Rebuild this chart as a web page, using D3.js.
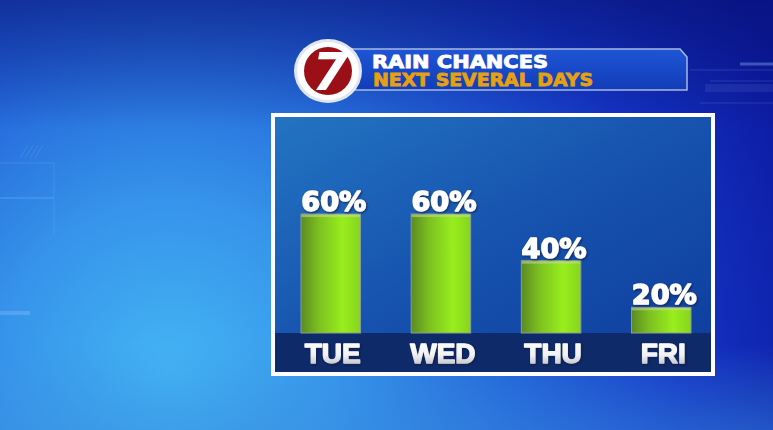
<!DOCTYPE html>
<html>
<head>
<meta charset="utf-8">
<script src="https://cdn.jsdelivr.net/npm/d3@7"></script>
<style>
  html, body { margin: 0; padding: 0; background: #0c1aa8; }
  svg { display: block; }
</style>
</head>
<body>
<div id="chart"></div>
<script>
const days = ["TUE", "WED", "THU", "FRI"];
const rainChance = [60, 60, 40, 20];
const valueLabels = ["60%", "60%", "40%", "20%"];
const titleLines = ["RAIN CHANCES", "NEXT SEVERAL DAYS"];

const width = 773;
const height = 430;

const svg = d3.select("#chart")
    .append("svg")
    .attr("width", width)
    .attr("height", height);

const defs = svg.append("defs");

// background glow, light cyan in the lower left
const bg = defs.append("radialGradient")
    .attr("id", "bgGlow")
    .attr("gradientUnits", "userSpaceOnUse")
    .attr("cx", 170).attr("cy", 370).attr("r", 680);
bg.append("stop").attr("offset", "0").attr("stop-color", "#44b4f4");
bg.append("stop").attr("offset", "0.25").attr("stop-color", "#3694ea");
bg.append("stop").attr("offset", "0.5").attr("stop-color", "#2262d8");
bg.append("stop").attr("offset", "0.75").attr("stop-color", "#1434c4");
bg.append("stop").attr("offset", "1").attr("stop-color", "#0c189e");

const topShade = defs.append("linearGradient")
    .attr("id", "topShade").attr("x1", 0).attr("y1", 0).attr("x2", 0).attr("y2", 1);
topShade.append("stop").attr("offset", "0").attr("stop-color", "#06106a").attr("stop-opacity", 0.5);
topShade.append("stop").attr("offset", "0.3").attr("stop-color", "#06106a").attr("stop-opacity", 0);
topShade.append("stop").attr("offset", "0.8").attr("stop-color", "#3a90e0").attr("stop-opacity", 0);
topShade.append("stop").attr("offset", "1").attr("stop-color", "#3a90e0").attr("stop-opacity", 0.45);

const panelGrad = defs.append("linearGradient")
    .attr("id", "panelGrad").attr("x1", 0).attr("y1", 0).attr("x2", 1).attr("y2", 1);
panelGrad.append("stop").attr("offset", "0").attr("stop-color", "#2374c2");
panelGrad.append("stop").attr("offset", "0.5").attr("stop-color", "#1652ae");
panelGrad.append("stop").attr("offset", "1").attr("stop-color", "#0e3c9c");

const barGrad = defs.append("linearGradient")
    .attr("id", "barGrad").attr("x1", 0).attr("y1", 0).attr("x2", 1).attr("y2", 0);
barGrad.append("stop").attr("offset", "0").attr("stop-color", "#5c8a22");
barGrad.append("stop").attr("offset", "0.3").attr("stop-color", "#7cc020");
barGrad.append("stop").attr("offset", "0.7").attr("stop-color", "#98ee1c");
barGrad.append("stop").attr("offset", "1").attr("stop-color", "#86d41e");

const dayGrad = defs.append("linearGradient")
    .attr("id", "dayGrad").attr("x1", 0).attr("y1", 0).attr("x2", 0).attr("y2", 1);
dayGrad.append("stop").attr("offset", "0").attr("stop-color", "#ffffff");
dayGrad.append("stop").attr("offset", "0.55").attr("stop-color", "#f2f2f4");
dayGrad.append("stop").attr("offset", "1").attr("stop-color", "#aeb2bc");

const bannerGrad = defs.append("linearGradient")
    .attr("id", "bannerGrad").attr("x1", 0).attr("y1", 0).attr("x2", 0).attr("y2", 1);
bannerGrad.append("stop").attr("offset", "0").attr("stop-color", "#1e56d6");
bannerGrad.append("stop").attr("offset", "1").attr("stop-color", "#123cb8");

const shadow = defs.append("filter").attr("id", "txtShadow")
    .attr("x", "-20%").attr("y", "-20%").attr("width", "140%").attr("height", "140%");
shadow.append("feDropShadow")
    .attr("dx", 1).attr("dy", 1).attr("stdDeviation", 1)
    .attr("flood-color", "#0a1a40").attr("flood-opacity", 0.8);

svg.append("rect").attr("width", width).attr("height", height).attr("fill", "url(#bgGlow)");
svg.append("rect").attr("width", width).attr("height", height).attr("fill", "url(#topShade)");

// faint hud lines in the background
const deco = svg.append("g").attr("stroke", "#9cc8ff").attr("stroke-opacity", 0.18).attr("fill", "none");
deco.append("path").attr("d", "M0,163 H54 V235");
deco.append("path").attr("d", "M0,198 H54").attr("stroke-width", 2);
deco.append("path").attr("d", "M0,313 H30").attr("stroke-width", 4).attr("stroke-opacity", 0.3);
deco.append("path").attr("d", "M20,158 L28,145 M25,158 L33,145 M30,158 L38,145 M35,158 L43,145");
deco.append("path").attr("d", "M690,70 H773");
deco.append("path").attr("d", "M740,64 H773").attr("stroke-width", 3).attr("stroke-opacity", 0.35);
deco.append("path").attr("d", "M710,81 H773");
deco.append("path").attr("d", "M705,88 H773").attr("stroke-width", 8).attr("stroke-opacity", 0.1);
deco.append("path").attr("d", "M700,103 H773");

// chart panel
const panel = { x: 275, y: 117, w: 436, h: 255, band: 39 };

svg.append("rect")
    .attr("x", panel.x - 2).attr("y", panel.y - 2)
    .attr("width", panel.w + 4).attr("height", panel.h + 4)
    .attr("fill", "none").attr("stroke", "#ffffff").attr("stroke-width", 4);

svg.append("rect")
    .attr("x", panel.x).attr("y", panel.y)
    .attr("width", panel.w).attr("height", panel.h)
    .attr("fill", "url(#panelGrad)");

svg.append("rect")
    .attr("x", panel.x).attr("y", panel.y + panel.h - panel.band)
    .attr("width", panel.w).attr("height", panel.band)
    .attr("fill", "#0f2a68");

const baseY = panel.y + panel.h - panel.band;

const x = d3.scaleBand()
    .domain(days)
    .range([301, 691])
    .paddingInner(0.46)
    .paddingOuter(0);

// bars on the graphic are not drawn from zero, lowest value keeps a stub
const y = d3.scaleLinear()
    .domain([9, 60])
    .range([baseY, 214]);

const bars = svg.append("g");

bars.selectAll("rect.bar")
    .data(days)
    .enter()
    .append("rect")
    .attr("class", "bar")
    .attr("x", d => x(d))
    .attr("y", (d, i) => y(rainChance[i]))
    .attr("width", x.bandwidth())
    .attr("height", (d, i) => baseY - y(rainChance[i]))
    .attr("fill", "url(#barGrad)")
    .attr("stroke", "#8a9a9a")
    .attr("stroke-width", 1);

bars.selectAll("rect.hl")
    .data(days)
    .enter()
    .append("rect")
    .attr("class", "hl")
    .attr("x", d => x(d) + 0.5)
    .attr("y", (d, i) => y(rainChance[i]) + 0.5)
    .attr("width", x.bandwidth() - 1)
    .attr("height", 2.5)
    .attr("fill", "#c8d8a0")
    .attr("opacity", 0.55);

svg.append("g")
    .selectAll("text")
    .data(days)
    .enter()
    .append("text")
    .attr("x", d => x(d) + x.bandwidth() / 2 + 3)
    .attr("y", (d, i) => y(rainChance[i]) - 3)
    .attr("text-anchor", "middle")
    .attr("font-family", "'DejaVu Sans', sans-serif")
    .attr("font-weight", "bold")
    .attr("font-size", 26)
    .attr("textLength", 65)
    .attr("lengthAdjust", "spacingAndGlyphs")
    .attr("fill", "#ffffff")
    .attr("stroke", "#ffffff")
    .attr("stroke-width", 1.4)
    .attr("stroke-linejoin", "round")
    .attr("filter", "url(#txtShadow)")
    .text((d, i) => valueLabels[i]);

svg.append("g")
    .selectAll("text")
    .data(days)
    .enter()
    .append("text")
    .attr("x", d => x(d) + x.bandwidth() / 2 + 2)
    .attr("y", 363)
    .attr("text-anchor", "middle")
    .attr("font-family", "'Liberation Sans', Arial, sans-serif")
    .attr("font-weight", "bold")
    .attr("font-size", 28)
    .attr("fill", "url(#dayGrad)")
    .attr("stroke", "url(#dayGrad)")
    .attr("stroke-width", 1.3)
    .attr("stroke-linejoin", "round")
    .attr("filter", "url(#txtShadow)")
    .text(d => d);

// title banner with station logo
const header = svg.append("g");

header.append("path")
    .attr("d", "M350,49 H680 L687,57 V90 H350 Z")
    .attr("fill", "url(#bannerGrad)")
    .attr("stroke", "#a8b8e0")
    .attr("stroke-width", 1.5);

header.append("text")
    .attr("x", 372).attr("y", 68)
    .attr("font-family", "'DejaVu Sans', sans-serif")
    .attr("font-weight", "bold")
    .attr("font-size", 17)
    .attr("textLength", 176)
    .attr("lengthAdjust", "spacingAndGlyphs")
    .attr("fill", "#ffffff")
    .attr("stroke", "#ffffff")
    .attr("stroke-width", 0.8)
    .text(titleLines[0]);

header.append("text")
    .attr("x", 373).attr("y", 86)
    .attr("font-family", "'DejaVu Sans', sans-serif")
    .attr("font-weight", "bold")
    .attr("font-size", 17)
    .attr("textLength", 220)
    .attr("lengthAdjust", "spacingAndGlyphs")
    .attr("fill", "#e6a012")
    .attr("stroke", "#e6a012")
    .attr("stroke-width", 0.8)
    .text(titleLines[1]);

const logo = header.append("g").attr("transform", "translate(328,71)");
logo.append("ellipse").attr("rx", 34).attr("ry", 32).attr("fill", "#dfe6f2");
logo.append("ellipse").attr("rx", 31).attr("ry", 29).attr("fill", "#ffffff");
logo.append("circle").attr("r", 24).attr("fill", "#9a1016");
logo.append("text")
    .attr("x", 2).attr("y", 19)
    .attr("text-anchor", "middle")
    .attr("font-family", "'DejaVu Sans', sans-serif")
    .attr("font-weight", "bold")
    .attr("font-style", "italic")
    .attr("font-size", 52)
    .attr("fill", "#ffffff")
    .text("7");
</script>
</body>
</html>
